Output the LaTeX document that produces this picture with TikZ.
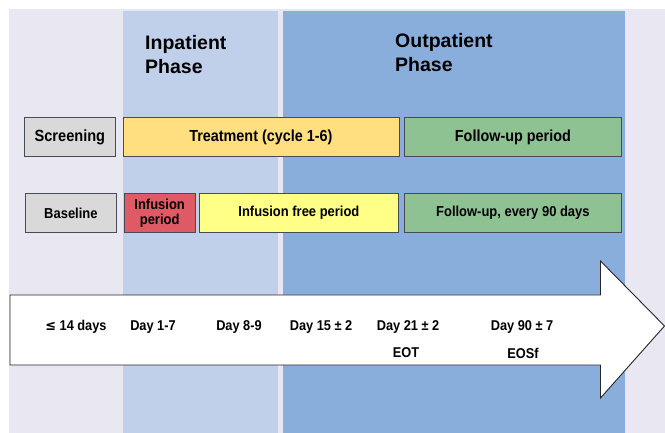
\documentclass[tikz,border=0pt]{standalone}
\usepackage{fontspec}
\setmainfont{Liberation Sans}
\newfontfamily\nar[FakeStretch=0.9]{Liberation Sans}
\definecolor{bgl}{RGB}{233,231,241}
\definecolor{inpc}{RGB}{192,207,234}
\definecolor{outc}{RGB}{138,174,220}
\definecolor{grayb}{RGB}{217,217,217}
\definecolor{treatc}{RGB}{255,223,128}
\definecolor{greenc}{RGB}{143,194,147}
\definecolor{redc}{RGB}{224,90,101}
\definecolor{yelc}{RGB}{255,255,136}
\definecolor{edgec}{RGB}{70,75,85}
\tikzset{
  boxst/.style={draw=edgec, line width=0.8pt, inner sep=0pt, anchor=north west, align=center, font=\nar\bfseries\fontsize{14.4}{15}\selectfont},
  daylbl/.style={font=\nar\bfseries\fontsize{14.2}{15}\selectfont, inner sep=0pt},
  titlelbl/.style={font=\bfseries\fontsize{19.5}{24}\selectfont, align=left, inner sep=0pt, anchor=north west}
}
\begin{document}
\begin{tikzpicture}[x=1pt,y=-1pt]
\useasboundingbox (0,0) rectangle (665,433);
\fill[white] (0,0) rectangle (665,433);
\fill[bgl] (9,9) rectangle (665,433);
\fill[inpc] (122.5,11) rectangle (278,433);
\fill[outc] (283,11) rectangle (625,433);
% titles
\node[titlelbl] (inp) at (145,35) {Inpatient\\Phase};
\node[titlelbl] (outp) at (395,33) {Outpatient\\Phase};
% row 1
\node[boxst, fill=grayb, minimum width=91pt, minimum height=39pt, font=\nar\bfseries\fontsize{16.2}{17}\selectfont] (scr) at (24,117) {Screening};
\node[boxst, fill=treatc, minimum width=276pt, minimum height=39pt, font=\nar\bfseries\fontsize{16}{17}\selectfont] (trt) at (122.5,117) {Treatment (cycle 1-6)};
\node[boxst, fill=greenc, minimum width=217pt, minimum height=39pt, font=\nar\bfseries\fontsize{16}{17}\selectfont] (fup) at (404,117) {Follow-up period};
% row 2
\node[boxst, fill=grayb, minimum width=91pt, minimum height=39pt] (base) at (25,193) {Baseline};
\node[boxst, fill=redc, minimum width=71.5pt, minimum height=39pt] (inf) at (123.5,193) {Infusion\\period};
\node[boxst, fill=yelc, minimum width=199pt, minimum height=39pt] (ifp) at (199,193) {Infusion free period};
\node[boxst, fill=greenc, minimum width=217pt, minimum height=39pt] (f90) at (404,193) {Follow-up,\ every 90 days};
% arrow
\draw[draw=black!85, line width=0.9pt, fill=white] (10,295) -- (600.5,295) -- (600.5,261) -- (664.5,326) -- (600.5,398) -- (600.5,365) -- (10,365) -- cycle;
\node[daylbl] (d0) at (76,327) {\fontspec{DejaVu Sans}[FakeStretch=0.9]≤\nar\ 14 days};
\node[daylbl] (d1) at (153,327) {Day 1-7};
\node[daylbl] (d2) at (239,327) {Day 8-9};
\node[daylbl] (d3) at (321,327) {Day 15 ± 2};
\node[daylbl] (d4) at (408,327) {Day 21 ± 2};
\node[daylbl] (eot) at (406,353) {EOT};
\node[daylbl] (d5) at (522,327) {Day 90 ± 7};
\node[daylbl] (eosf) at (523,353) {EOSf};
\end{tikzpicture}
\end{document}
